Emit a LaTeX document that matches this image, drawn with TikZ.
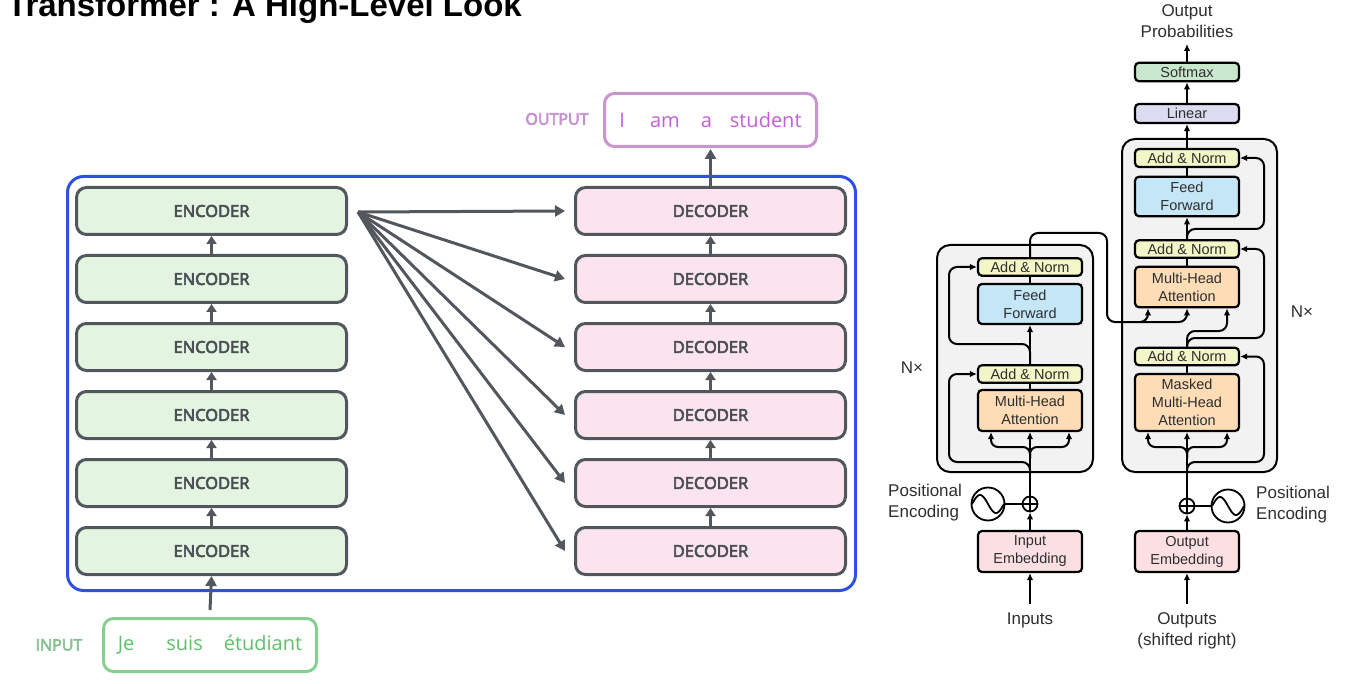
\documentclass[tikz,border=0pt]{standalone}
\usepackage{fontspec}
\usetikzlibrary{arrows.meta,calc}
\newfontfamily\osans{Open Sans}
\newfontfamily\rfont{Liberation Sans}
\newcommand\sbtext[1]{\leavevmode\special{pdf:literal direct 2 Tr 0.6 w}\kern0pt#1\special{pdf:literal direct 0 Tr}}
\definecolor{bluef}{HTML}{2F50E6}
\definecolor{boxgray}{HTML}{52575D}
\definecolor{boxtext}{HTML}{4A4F55}
\definecolor{encfill}{HTML}{E3F4E1}
\definecolor{decfill}{HTML}{FCE4EE}
\definecolor{outborder}{HTML}{C895CF}
\definecolor{outtext}{HTML}{C060D4}
\definecolor{outlabel}{HTML}{C58FD0}
\definecolor{inborder}{HTML}{85CF93}
\definecolor{intext}{HTML}{5FBF6A}
\definecolor{inlabel}{HTML}{86BF92}
\definecolor{rtext}{HTML}{2E2E2E}
\definecolor{framefill}{HTML}{F2F2F2}
\definecolor{anfill}{HTML}{F3F6C6}
\definecolor{fffill}{HTML}{C4E6F6}
\definecolor{mhafill}{HTML}{FDDCB6}
\definecolor{embfill}{HTML}{FBDFE2}
\definecolor{linfill}{HTML}{DCDCF1}
\definecolor{smfill}{HTML}{C9E7CD}
\begin{document}
\begin{tikzpicture}[x=1pt,y=-1pt,
  encbox/.style={draw=boxgray, fill=encfill, line width=3pt, rounded corners=10pt,
    minimum width=270pt, minimum height=47pt, inner sep=0pt, text=boxtext,
    font=\osans\fontsize{16.5}{20}\selectfont},
  decbox/.style={encbox, fill=decfill},
  garrow/.style={draw=boxgray, line width=3pt, -{Triangle[length=10pt,width=11pt]}},
  sarrow/.style={draw=boxgray, line width=3pt, -{Triangle[length=8pt,width=10pt]}},
  rbox/.style={draw=black, line width=2.2pt, rounded corners=4pt, minimum width=104pt,
    inner sep=0pt, align=center, text=rtext, font=\rfont\fontsize{14.5}{18}\selectfont},
  rlabel/.style={text=rtext, font=\rfont\fontsize{17}{21}\selectfont, inner sep=0pt},
  rframe/.style={draw=black, fill=framefill, line width=2pt, rounded corners=13pt},
  rline/.style={draw=black, line width=2pt},
  rarrow/.style={draw=black, line width=2pt, -{Latex[length=7pt,width=6.5pt]}},
  rcirc/.style={circle, draw=black, line width=1.8pt, inner sep=0pt, fill=white}
]
\useasboundingbox (0,0) rectangle (1356,684);

% ---------- title ----------
\node[anchor=base west, inner sep=0pt, font=\rfont\bfseries\fontsize{33}{36}\selectfont] (title) at (7,17) {Transformer : A High-Level Look};

% ---------- left: high level ----------
\draw[draw=bluef, line width=3pt, rounded corners=16pt] (67.5,176.5) rectangle (855.5,590.5);

\foreach \i/\yy in {1/211,2/279,3/347,4/415,5/483,6/551}{
  \node[encbox] (enc\i) at (211.5,\yy) {\sbtext{ENCODER}};
  \node[decbox] (dec\i) at (710.5,\yy) {\sbtext{DECODER}};
}
\foreach \i/\j in {2/1,3/2,4/3,5/4,6/5}{
  \draw[sarrow] (enc\i.north) -- (enc\j.south);
  \draw[sarrow] (dec\i.north) -- (dec\j.south);
}
\coordinate (fan) at (358,212);
\foreach \i in {1,...,6}{
  \draw[garrow] (fan) -- ([xshift=-9pt]dec\i.west);
}

\node[draw=outborder, line width=3pt, rounded corners=10pt, minimum width=212pt,
  minimum height=53pt, text=outtext, font=\osans\fontsize{20}{24}\selectfont] (out)
  at (710.5,120) {I\hspace{25pt}am\hspace{21pt}a\hspace{18pt}student};
\node[text=outlabel, font=\osans\fontsize{16}{20}\selectfont, inner sep=0pt] (outlbl) at (557,119) {\sbtext{OUTPUT}};
\draw[garrow] (dec1.north) -- ([yshift=-1pt]out.south);

\node[draw=inborder, line width=3pt, rounded corners=10pt, minimum width=213pt,
  minimum height=53pt, text=intext, font=\osans\fontsize{20}{24}\selectfont] (in)
  at (210,645) {Je\hspace{32pt}suis\hspace{21pt}étudiant};
\node[text=inlabel, font=\osans\fontsize{16}{20}\selectfont, inner sep=0pt] (inlbl) at (59,645) {\sbtext{INPUT}};
\draw[garrow] ([yshift=7pt]in.north) -- (enc6.south);

% ---------- right: transformer ----------
\draw[rframe] (937,245) rectangle (1093,472);
\draw[rframe] (1122,139) rectangle (1277,472);

% encoder
\node[rbox, fill=anfill, minimum height=17.5pt] (ean1) at (1030,267) {Add \& Norm};
\node[rbox, fill=fffill, minimum height=40pt] (eff) at (1030,304) {Feed\\Forward};
\node[rbox, fill=anfill, minimum height=17.5pt] (ean2) at (1030,374) {Add \& Norm};
\node[rbox, fill=mhafill, minimum height=41pt] (emha) at (1030,410.5) {Multi-Head\\Attention};
\node[rbox, fill=embfill, minimum height=41pt] (eemb) at (1030,551.5) {Input\\Embedding};
\node[rcirc, minimum size=15pt] (eplus) at (1030,504) {};
\node[rcirc, minimum size=33pt] (esin) at (988,504) {};

% decoder
\node[rbox, fill=smfill, minimum height=18.5pt] (soft) at (1187,72) {Softmax};
\node[rbox, fill=linfill, minimum height=19pt] (lin) at (1187,113.5) {Linear};
\node[rbox, fill=anfill, minimum height=18pt] (dan1) at (1187,158) {Add \& Norm};
\node[rbox, fill=fffill, minimum height=39.5pt] (dff) at (1187,196.5) {Feed\\Forward};
\node[rbox, fill=anfill, minimum height=17.5pt] (dan2) at (1187,249) {Add \& Norm};
\node[rbox, fill=mhafill, minimum height=40.5pt] (dmha) at (1187,287) {Multi-Head\\Attention};
\node[rbox, fill=anfill, minimum height=17.5pt] (dan3) at (1187,356.5) {Add \& Norm};
\node[rbox, fill=mhafill, minimum height=57pt] (dmmha) at (1187,402.5) {Masked\\Multi-Head\\Attention};
\node[rbox, fill=embfill, minimum height=41pt] (demb) at (1187,551.5) {Output\\Embedding};
\node[rcirc, minimum size=15pt] (dplus) at (1187,506) {};
\node[rcirc, minimum size=33pt] (dsin) at (1228,506) {};

% labels
\node[rlabel, align=center] (oprob) at (1187,21) {Output\\Probabilities};
\node[rlabel, align=left, anchor=west] (epos) at (888,503) {Positional\\Encoding};
\node[rlabel, align=left, anchor=west] (dpos) at (1256,505) {Positional\\Encoding};
\node[rlabel] (enx) at (912,368) {N×};
\node[rlabel] (dnx) at (1302,312) {N×};
\node[rlabel] (inputs) at (1030,620) {Inputs};
\node[rlabel, align=center] (outputs) at (1187,631) {Outputs\\(shifted right)};

% plus and sine symbols
\draw[rline, line width=1.8pt] (eplus.north) -- (eplus.south) (eplus.west) -- (eplus.east);
\draw[rline, line width=1.8pt] (dplus.north) -- (dplus.south) (dplus.west) -- (dplus.east);
\draw[rline, line width=1.8pt] plot[domain=-1:1, samples=41, smooth] ({988+16*\x},{504+9*sin(180*\x)});
\draw[rline, line width=1.8pt] plot[domain=-1:1, samples=41, smooth] ({1228+16*\x},{506+9*sin(180*\x)});
\draw[rline] (esin.east) -- (eplus.west);
\draw[rline] (dsin.west) -- (dplus.east);

% encoder connections
\coordinate (einp) at (1030,604);
\draw[rarrow] (einp) -- (eemb.south);
\draw[rarrow] (eemb.north) -- (eplus.south);
\draw[rarrow] (eplus.north) -- (emha.south);
\draw[rarrow, rounded corners=7pt] (1030,458) |- (991,447) -- ([xshift=-39pt]emha.south);
\draw[rarrow, rounded corners=7pt] (1030,458) |- (1069,447) -- ([xshift=39pt]emha.south);
\draw[rarrow, rounded corners=8pt] (1030,472) |- (949,462) |- (ean2.west);
\draw[rline] (emha.north) -- (ean2.south);
\draw[rarrow] (ean2.north) -- (eff.south);
\draw[rarrow, rounded corners=8pt] (ean2.north) |- (949,344) |- (ean1.west);
\draw[rline] (eff.north) -- (ean1.south);
% encoder output to decoder
\draw[rarrow, rounded corners=8pt] (ean1.north) |- (1107,233) |- (1148,322) -- ([xshift=-39pt]dmha.south);
\draw[rarrow, rounded corners=8pt] (1140,322) -| (dmha.south);

% decoder connections
\coordinate (dinp) at (1187,604);
\draw[rarrow] (dinp) -- (demb.south);
\draw[rarrow] (demb.north) -- (dplus.south);
\draw[rarrow] (dplus.north) -- (dmmha.south);
\draw[rarrow, rounded corners=7pt] (1187,458) |- (1148,447) -- ([xshift=-39pt]dmmha.south);
\draw[rarrow, rounded corners=7pt] (1187,458) |- (1227,447) -- ([xshift=40pt]dmmha.south);
\draw[rarrow, rounded corners=8pt] (1187,472) |- (1264,462) |- (dan3.east);
\draw[rline] (dmmha.north) -- (dan3.south);
\draw[rarrow, rounded corners=8pt] (dan3.north) |- (1227,331) -- ([xshift=40pt]dmha.south);
\draw[rarrow, rounded corners=8pt] (dan3.north) |- (1264,338) |- (dan2.east);
\draw[rline] (dmha.north) -- (dan2.south);
\draw[rarrow] (dan2.north) -- (dff.south);
\draw[rarrow, rounded corners=8pt] (dan2.north) |- (1264,229) |- (dan1.east);
\draw[rline] (dff.north) -- (dan1.south);
\draw[rarrow] (dan1.north) -- (lin.south);
\draw[rarrow] (lin.north) -- (soft.south);
\coordinate (otop) at (1187,44);
\draw[rarrow] (soft.north) -- (otop);
\end{tikzpicture}
\end{document}
